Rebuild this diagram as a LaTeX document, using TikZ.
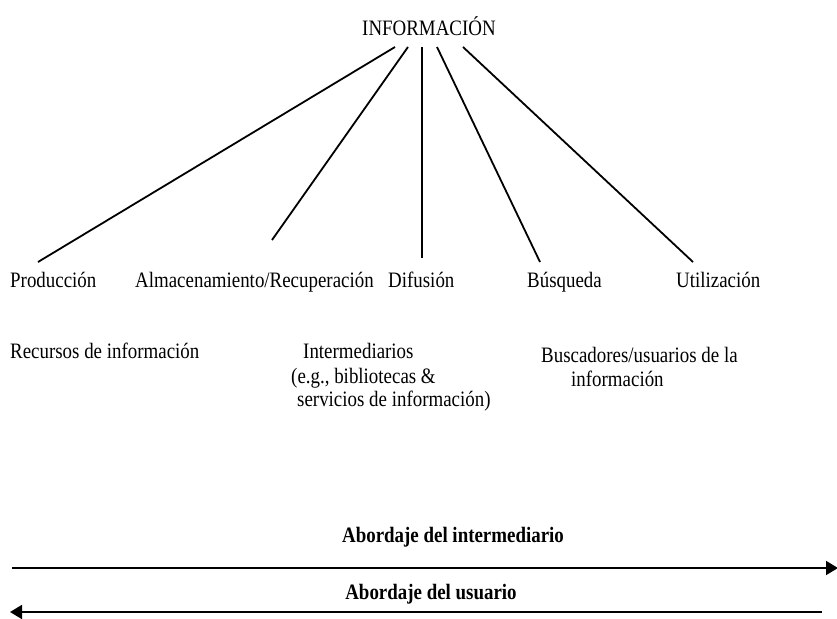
\documentclass[tikz,border=0pt]{standalone}
\usepackage{fontspec}
\setmainfont[FakeStretch=0.86]{Liberation Serif}
\usetikzlibrary{arrows.meta}
\begin{document}
\begin{tikzpicture}[x=1pt,y=-1pt,
  lbl/.style={anchor=base west,inner sep=0pt,font=\fontsize{22}{25}\selectfont},
  ttl/.style={anchor=base,inner sep=0pt,font=\fontsize{22}{25}\selectfont\bfseries},
  conn/.style={line width=1.8pt},
  axis/.style={line width=1.8pt,-{Triangle[length=12pt,width=14pt]}}]
\useasboundingbox (0,0) rectangle (837,618);
\node[lbl] (info) at (362,36) {INFORMACIÓN};
\node[lbl] (prod) at (10,287) {Producción};
\node[lbl] (alm) at (135,287) {Almacenamiento/Recuperación};
\node[lbl] (dif) at (388,287) {Difusión};
\node[lbl] (bus) at (527,287) {Búsqueda};
\node[lbl] (uti) at (676,287) {Utilización};
\node[lbl] (rec) at (10,358) {Recursos de información};
\node[lbl] (int1) at (303,358) {Intermediarios};
\node[lbl] (int2) at (291,383) {(e.g., bibliotecas \&};
\node[lbl] (int3) at (297,406) {servicios de información)};
\node[lbl] (bu1) at (541,362) {Buscadores/usuarios de la};
\node[lbl] (bu2) at (571,386) {información};
\node[ttl] (abi) at (453,542) {Abordaje del intermediario};
\node[ttl] (abu) at (431,599) {Abordaje del usuario};
\coordinate (s1) at (395,47);
\coordinate (s2) at (408,47);
\coordinate (s3) at (422,47);
\coordinate (s4) at (437,47);
\coordinate (s5) at (463,47);
\coordinate (e1) at (38,262);
\coordinate (e2) at (272,240);
\coordinate (e3) at (422,258);
\coordinate (e4) at (540,262);
\coordinate (e5) at (693,262);
\draw[conn] (s1) -- (e1);
\draw[conn] (s2) -- (e2);
\draw[conn] (s3) -- (e3);
\draw[conn] (s4) -- (e4);
\draw[conn] (s5) -- (e5);
\coordinate (a1) at (12,568);
\coordinate (a2) at (838,568);
\coordinate (b1) at (822,612);
\coordinate (b2) at (10,612);
\draw[axis] (a1) -- (a2);
\draw[axis] (b1) -- (b2);
\end{tikzpicture}
\end{document}
